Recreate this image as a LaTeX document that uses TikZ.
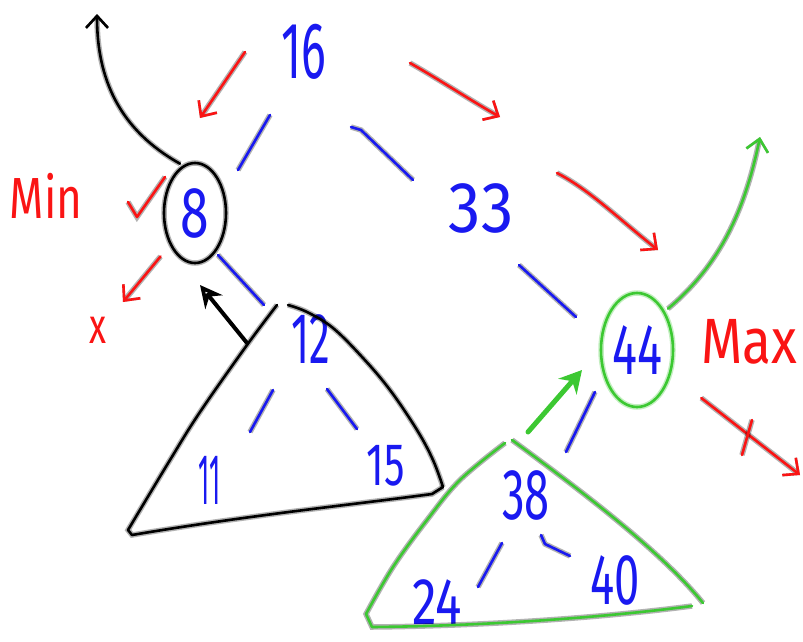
\documentclass[tikz,border=0pt]{standalone}
\usepackage{fontspec}
\setmainfont{Fira Sans}
\usepackage{graphicx}
\usetikzlibrary{arrows.meta,shapes.geometric}
\definecolor{pblue}{RGB}{25,25,240}
\definecolor{pred}{RGB}{250,20,20}
\definecolor{pgreen}{RGB}{60,200,50}
\tikzset{
  pen/.style={line width=2.6pt, line cap=round, line join=round,
    preaction={draw, line width=5.5pt, opacity=0.3}},
  edge/.style={pen, draw=pblue},
  num/.style={text=pblue, inner sep=0pt, font=\fontsize{72}{72}\selectfont},
  lbl/.style={text=pred, inner sep=0pt},
  barb/.style={-{Straight Barb[length=12pt,width=22pt,line width=2.6pt]}},
  redarrow/.style={pen, draw=pred, barb},
  ring/.style={draw, ellipse, inner sep=0pt, line width=2.6pt,
    preaction={draw, line width=5.5pt, opacity=0.3}},
}
\newcommand{\hw}[2]{\scalebox{#1}[1]{#2}}
\begin{document}
\begin{tikzpicture}[x=1pt,y=-1pt]
\useasboundingbox (0,0) rectangle (803,641);
% nodes
\node[num, font=\fontsize{80}{80}\selectfont] (n16) at (304,52) {\hw{0.58}{16}};
\node[num, ring, draw=black, minimum width=62pt, minimum height=100pt] (n8) at (195,213) {\hw{0.72}{8}};
\node[num] (n33) at (481,208) {\hw{0.9}{33}};
\node[num] (n12) at (311,339) {\hw{0.58}{12}};
\node[num] (n11) at (210,480) {\hw{0.36}{11}};
\node[num, font=\fontsize{60}{60}\selectfont] (n15) at (386,466) {\hw{0.68}{15}};
\node[num, ring, draw=pgreen, minimum width=72pt, minimum height=114pt] (n44) at (637,350) {\hw{0.65}{44}};
\node[num] (n38) at (526,495) {\hw{0.63}{38}};
\node[num, font=\fontsize{66}{66}\selectfont] (n24) at (437,602) {\hw{0.75}{24}};
\node[num] (n40) at (615,580) {\hw{0.63}{40}};
% labels
\node[lbl, font=\fontsize{58}{58}\selectfont] (min) at (46,196) {\hw{0.76}{Min}};
\node[lbl, font=\fontsize{64}{64}\selectfont] (max) at (749,342) {\hw{0.83}{Max}};
\node[lbl, font=\fontsize{50}{50}\selectfont] (xx) at (98,330) {\hw{0.7}{x}};
% blue tree edges
\draw[edge] (n16.center) ++(-34,63) -- ++(-32,55);
\draw[edge] (n16.center) ++(47,75) -- ++(10,3) -- (413,180);
\draw[edge] (n8.center) ++(23,42) -- ++(46,50);
\draw[edge] (n33.center) ++(38,57) -- ++(57,52);
\draw[edge] (n12.center) ++(-38,51) -- ++(-23,42);
\draw[edge] (n12.center) ++(16,50) -- ++(30,40);
\draw[edge] (n44.center) ++(-42,42) -- ++(-29,60);
\draw[edge] (n38.center) ++(-24,48) -- ++(-24,44);
\draw[edge] (n38.center) ++(15,40) -- ++(4,9) -- ++(25,12);
% red arrows
\draw[redarrow] (245,52) -- (200,118);
\draw[redarrow] (410,63) .. controls (440,80) and (470,100) .. (500,117);
\draw[redarrow] (557,173) .. controls (590,190) and (620,220) .. (658,250);
\draw[redarrow] (n8.200) ++(-3,32) -- (123,302);
\draw[redarrow] (n44.east) ++(27,48) -- (800,475);
\draw[pen, draw=pred] (752,420) -- (742,455);
% check mark
\draw[pen, draw=pred] (128,202) -- (137,217) -- (165,177);
% black curved arrow from 8
\draw[pen, draw=black, barb] (n8.north) ++(-15,2) .. controls (120,130) and (97,80) .. (97,14);
% black triangle (subtree of 12)
\draw[pen, draw=black] plot[smooth, tension=0.6] coordinates {(277,305) (247,345) (200,412) (170,460) (128,530)}
  -- (132,535) .. controls (250,515) and (350,505) .. (432,494) -- (443,487);
\draw[pen, draw=black] plot[smooth, tension=0.6] coordinates {(288,305) (307,312) (333,328) (363,358) (390,390) (417,430) (433,460) (443,487)};
\draw[draw=black, line width=4pt, line cap=round, -{Stealth[length=22pt,width=22pt,open]}] (247,343) -- (200,285);
% green triangle (subtree of 38)
\draw[pen, draw=pgreen] (512,440) .. controls (580,490) and (660,550) .. (703,603);
\draw[pen, draw=pgreen] plot[smooth, tension=0.6] coordinates {(505,443) (460,480) (427,520) (393,567) (366,614)}
  -- (372,627) .. controls (480,626) and (600,618) .. (692,606);
\draw[draw=pgreen, line width=5pt, line cap=round, -{Stealth[length=22pt,width=24pt]}] (528,432) -- (582,370);
% green curved arrow from 44
\draw[pen, draw=pgreen, barb] (n44.north) ++(31,17) .. controls (720,265) and (745,210) .. (760,137);
\end{tikzpicture}
\end{document}
